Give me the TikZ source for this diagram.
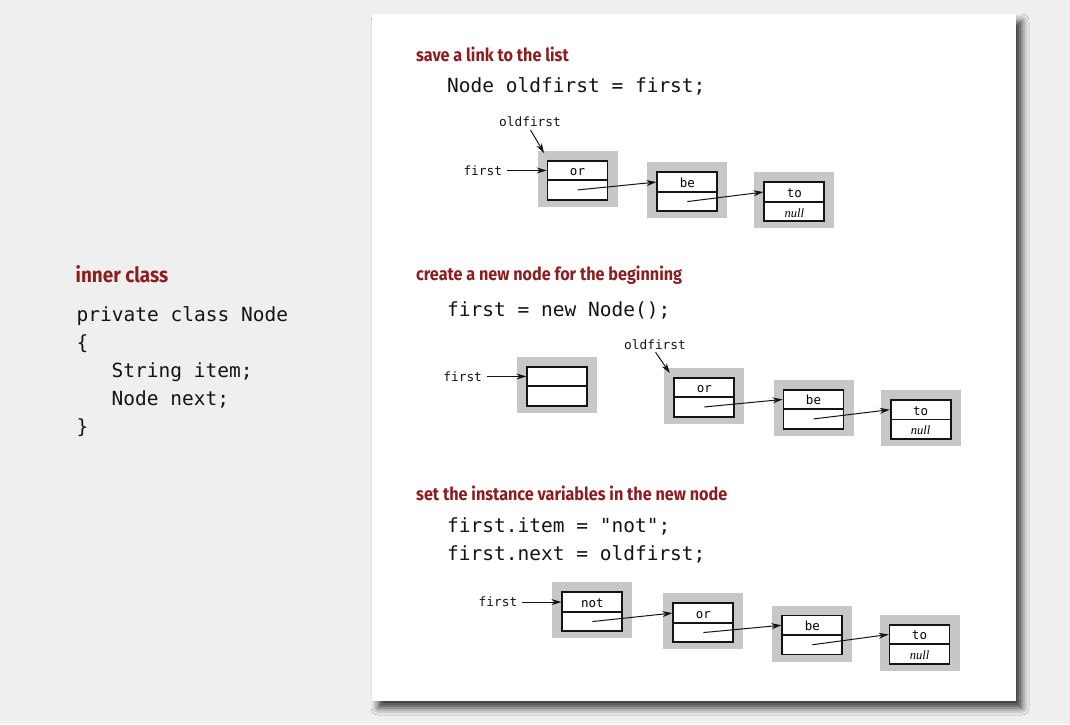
\documentclass[tikz,border=0pt]{standalone}
\usepackage{fontspec}
\usetikzlibrary{arrows.meta,shadows.blur}
\setmainfont{Fira Sans}
\newfontfamily\headfont[FakeStretch=0.9]{Fira Sans}
\newfontfamily\codefont{DejaVu Sans Mono}
\newfontfamily\nullitfont{Liberation Serif}

\definecolor{pagebg}{RGB}{239,239,239}
\definecolor{boxgrey}{RGB}{199,199,199}
\definecolor{headred}{RGB}{141,30,32}
\definecolor{ink}{RGB}{20,20,20}

\tikzset{
  heading/.style={anchor=base west, inner sep=0pt, text=headred,
    font=\headfont\bfseries\fontsize{18}{21}\selectfont},
  bigheading/.style={heading, font=\headfont\bfseries\fontsize{21}{25}\selectfont},
  code/.style={anchor=base west, inner sep=0pt, text=ink,
    font=\codefont\fontsize{19.5}{23}\selectfont},
  varname/.style={inner sep=0pt, text=ink,
    font=\codefont\fontsize{12.8}{15}\selectfont},
  greybox/.style={fill=boxgrey, minimum width=80pt, minimum height=56pt, inner sep=0pt},
  cell/.style={draw=ink, line width=1.7pt, fill=white, minimum width=60pt,
    minimum height=19.5pt, inner sep=0pt, text height=13pt, text depth=2pt,
    font=\codefont\fontsize{12.5}{15}\selectfont},
  nullcell/.style={cell, font=\nullitfont\itshape\fontsize{12.5}{14}\selectfont},
  ptr/.style={draw=ink, line width=1pt, -{Stealth[length=10pt,width=6pt]}},
}

% one linked-list node: name, top-left corner of the grey frame, item,
% style of the next cell, text of the next cell
\newcommand{\listnode}[6]{%
  \node[greybox] (#1) at (#2+40,#3+28) {};
  \node[cell] (#1-item) at (#2+40,#3+19.75) {#4};
  \node[#5] (#1-next) at (#2+40,#3+39.25) {#6};
}

\begin{document}
\begin{tikzpicture}[x=1pt,y=-1pt]
  \fill[pagebg] (0,0) rectangle (1070,724);
  \useasboundingbox (0,0) rectangle (1070,724);

  % white sheet with its drop shadow
  \fill[white, blur shadow={shadow xshift=6pt, shadow yshift=-7pt,
      shadow blur radius=7pt, shadow opacity=75}]
    (372,14) rectangle (1016,701);

  % the inner class declaration
  \node[bigheading] (hinner) at (75.5,282.7) {inner class};
  \node[code] (c1) at (76.5,321) {private class Node};
  \node[code] (c2) at (76.5,349) {\{};
  \node[code] (c3) at (111.5,377) {String item;};
  \node[code] (c4) at (111.5,405) {Node next;};
  \node[code] (c5) at (76.5,433) {\}};

  % step 1: save a link to the list
  \node[heading] (h1) at (416,61) {save a link to the list};
  \node[code] (s1) at (447,92) {Node oldfirst = first;};
  \listnode{aor}{537.5}{150.7}{or}{cell}{}
  \listnode{abe}{647.3}{162.3}{be}{cell}{}
  \listnode{ato}{754.3}{172.3}{to}{nullcell}{null}
  \node[varname, anchor=east] (afirst) at ([xshift=-44.4pt]aor-item.west) {first};
  \node[varname, anchor=base, inner sep=2pt] (aold) at (530,126.7) {oldfirst};
  \coordinate (aoldtip) at ([shift={(6.8,2.6)}]aor.north west);
  \draw[ptr, shorten <=5pt] (afirst.east) -- (aor-item.west);
  \draw[ptr, shorten <=1pt] (aold.south) -- (aoldtip);
  \draw[ptr] (aor-next.center) -- (abe-item.west);
  \draw[ptr] (abe-next.center) -- (ato-item.west);

  % step 2: create a new node for the beginning
  \node[heading] (h2) at (416,280) {create a new node for the beginning};
  \node[code] (s2) at (447,316) {first = new Node();};
  \listnode{bnew}{517.3}{356.7}{}{cell}{}
  \listnode{bor}{664.3}{367.7}{or}{cell}{}
  \listnode{bbe}{773.5}{379.7}{be}{cell}{}
  \listnode{bto}{880.7}{389.9}{to}{nullcell}{null}
  \node[varname, anchor=east] (bfirst) at ([xshift=-44.3pt]bnew-item.west) {first};
  \node[varname, anchor=base, inner sep=2pt] (bold) at (655,349) {oldfirst};
  \coordinate (boldtip) at ([shift={(5.7,5.6)}]bor.north west);
  \draw[ptr, shorten <=5pt] (bfirst.east) -- (bnew-item.west);
  \draw[ptr, shorten <=1pt] (bold.south) -- (boldtip);
  \draw[ptr] (bor-next.center) -- (bbe-item.west);
  \draw[ptr] (bbe-next.center) -- (bto-item.west);

  % step 3: set the instance variables in the new node
  \node[heading] (h3) at (416,500) {set the instance variables in the new node};
  \node[code] (s3a) at (447,532) {first.item = "not";};
  \node[code] (s3b) at (447,560) {first.next = oldfirst;};
  \listnode{cnot}{552.3}{582.3}{not}{cell}{}
  \listnode{cor}{663.3}{593.3}{or}{cell}{}
  \listnode{cbe}{772.3}{605.5}{be}{cell}{}
  \listnode{cto}{879.5}{614.7}{to}{nullcell}{null}
  \node[varname, anchor=east] (cfirst) at ([xshift=-44pt]cnot-item.west) {first};
  \draw[ptr, shorten <=5pt] (cfirst.east) -- (cnot-item.west);
  \draw[ptr] (cnot-next.center) -- (cor-item.west);
  \draw[ptr] (cor-next.center) -- (cbe-item.west);
  \draw[ptr] (cbe-next.center) -- (cto-item.west);
\end{tikzpicture}
\end{document}
